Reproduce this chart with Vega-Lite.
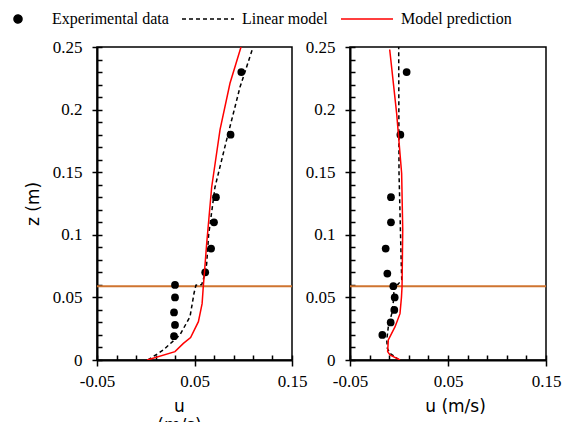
{
  "$schema": "https://vega.github.io/schema/vega-lite/v6.json",
  "background": "white",
  "padding": {"left": -9, "top": -8, "right": 0, "bottom": -12},
  "config": {
    "font": "Liberation Serif",
    "view": {"stroke": "black", "strokeWidth": 1.5},
    "axis": {"grid": false, "domainColor": "black", "domainWidth": 2, "tickColor": "black", "tickWidth": 1.5, "labelColor": "black", "labelFont": "Liberation Serif", "labelFontSize": 17, "titleFont": "DejaVu Sans", "titleFontSize": 17, "titleFontWeight": "normal", "titleColor": "black", "labelFlush": false, "labelOverlap": false},
    "legend": {"orient": "none", "legendX": -106, "legendY": -55, "direction": "horizontal", "title": null, "symbolSize": 2704, "symbolStrokeWidth": 1.5, "labelFont": "Liberation Serif", "labelFontSize": 16, "labelColor": "black", "labelOffset": 7, "columnPadding": 10, "labelLimit": 300, "padding": 0}
  },
  "data": {"values": [
    {"p": "a", "s": "Experimental data", "u": 0.030, "z": 0.060},
    {"p": "a", "s": "Experimental data", "u": 0.030, "z": 0.050},
    {"p": "a", "s": "Experimental data", "u": 0.029, "z": 0.038},
    {"p": "a", "s": "Experimental data", "u": 0.030, "z": 0.028},
    {"p": "a", "s": "Experimental data", "u": 0.029, "z": 0.019},
    {"p": "a", "s": "Experimental data", "u": 0.061, "z": 0.070},
    {"p": "a", "s": "Experimental data", "u": 0.067, "z": 0.089},
    {"p": "a", "s": "Experimental data", "u": 0.070, "z": 0.110},
    {"p": "a", "s": "Experimental data", "u": 0.072, "z": 0.130},
    {"p": "a", "s": "Experimental data", "u": 0.087, "z": 0.180},
    {"p": "a", "s": "Experimental data", "u": 0.098, "z": 0.230},
    {"p": "a", "s": "Linear model", "u": 0.0022, "z": 0.0},
    {"p": "a", "s": "Linear model", "u": 0.018, "z": 0.008},
    {"p": "a", "s": "Linear model", "u": 0.035, "z": 0.020},
    {"p": "a", "s": "Linear model", "u": 0.0454, "z": 0.0346},
    {"p": "a", "s": "Linear model", "u": 0.0495, "z": 0.0533},
    {"p": "a", "s": "Linear model", "u": 0.0515, "z": 0.0598},
    {"p": "a", "s": "Linear model", "u": 0.0574, "z": 0.0602},
    {"p": "a", "s": "Linear model", "u": 0.0608, "z": 0.069},
    {"p": "a", "s": "Linear model", "u": 0.0625, "z": 0.077},
    {"p": "a", "s": "Linear model", "u": 0.0645, "z": 0.100},
    {"p": "a", "s": "Linear model", "u": 0.071, "z": 0.138},
    {"p": "a", "s": "Linear model", "u": 0.083, "z": 0.176},
    {"p": "a", "s": "Linear model", "u": 0.0967, "z": 0.218},
    {"p": "a", "s": "Linear model", "u": 0.1097, "z": 0.249},
    {"p": "a", "s": "Model prediction", "u": 0.0015, "z": 0.0},
    {"p": "a", "s": "Model prediction", "u": 0.030, "z": 0.0067},
    {"p": "a", "s": "Model prediction", "u": 0.0386, "z": 0.0133},
    {"p": "a", "s": "Model prediction", "u": 0.046, "z": 0.018},
    {"p": "a", "s": "Model prediction", "u": 0.054, "z": 0.0306},
    {"p": "a", "s": "Model prediction", "u": 0.0578, "z": 0.045},
    {"p": "a", "s": "Model prediction", "u": 0.059, "z": 0.0585},
    {"p": "a", "s": "Model prediction", "u": 0.0602, "z": 0.070},
    {"p": "a", "s": "Model prediction", "u": 0.0625, "z": 0.093},
    {"p": "a", "s": "Model prediction", "u": 0.0676, "z": 0.138},
    {"p": "a", "s": "Model prediction", "u": 0.0762, "z": 0.184},
    {"p": "a", "s": "Model prediction", "u": 0.0864, "z": 0.221},
    {"p": "a", "s": "Model prediction", "u": 0.0977, "z": 0.250},
    {"p": "a", "s": "Level", "z": 0.059},
    {"p": "b", "s": "Experimental data", "u": 0.0078, "z": 0.230},
    {"p": "b", "s": "Experimental data", "u": 0.0014, "z": 0.180},
    {"p": "b", "s": "Experimental data", "u": -0.0082, "z": 0.130},
    {"p": "b", "s": "Experimental data", "u": -0.0082, "z": 0.110},
    {"p": "b", "s": "Experimental data", "u": -0.0136, "z": 0.089},
    {"p": "b", "s": "Experimental data", "u": -0.0119, "z": 0.069},
    {"p": "b", "s": "Experimental data", "u": -0.0058, "z": 0.059},
    {"p": "b", "s": "Experimental data", "u": -0.0044, "z": 0.050},
    {"p": "b", "s": "Experimental data", "u": -0.0048, "z": 0.040},
    {"p": "b", "s": "Experimental data", "u": -0.0085, "z": 0.030},
    {"p": "b", "s": "Experimental data", "u": -0.0170, "z": 0.020},
    {"p": "b", "s": "Linear model", "u": 0.0003, "z": 0.0},
    {"p": "b", "s": "Linear model", "u": -0.0092, "z": 0.0053},
    {"p": "b", "s": "Linear model", "u": -0.0119, "z": 0.0093},
    {"p": "b", "s": "Linear model", "u": -0.0125, "z": 0.016},
    {"p": "b", "s": "Linear model", "u": -0.0109, "z": 0.0266},
    {"p": "b", "s": "Linear model", "u": -0.0074, "z": 0.037},
    {"p": "b", "s": "Linear model", "u": -0.0051, "z": 0.0506},
    {"p": "b", "s": "Linear model", "u": -0.0058, "z": 0.0595},
    {"p": "b", "s": "Linear model", "u": -0.001, "z": 0.0605},
    {"p": "b", "s": "Linear model", "u": 0.0028, "z": 0.064},
    {"p": "b", "s": "Linear model", "u": 0.0022, "z": 0.080},
    {"p": "b", "s": "Linear model", "u": 0.0, "z": 0.150},
    {"p": "b", "s": "Linear model", "u": -0.0003, "z": 0.250},
    {"p": "b", "s": "Model prediction", "u": 0.001, "z": 0.0},
    {"p": "b", "s": "Model prediction", "u": -0.0092, "z": 0.004},
    {"p": "b", "s": "Model prediction", "u": -0.0116, "z": 0.0067},
    {"p": "b", "s": "Model prediction", "u": -0.0109, "z": 0.016},
    {"p": "b", "s": "Model prediction", "u": -0.004, "z": 0.0266},
    {"p": "b", "s": "Model prediction", "u": 0.001, "z": 0.037},
    {"p": "b", "s": "Model prediction", "u": 0.0025, "z": 0.050},
    {"p": "b", "s": "Model prediction", "u": 0.0031, "z": 0.0585},
    {"p": "b", "s": "Model prediction", "u": 0.0038, "z": 0.104},
    {"p": "b", "s": "Model prediction", "u": 0.0027, "z": 0.149},
    {"p": "b", "s": "Model prediction", "u": -0.0024, "z": 0.197},
    {"p": "b", "s": "Model prediction", "u": -0.0095, "z": 0.248},
    {"p": "b", "s": "Level", "z": 0.059}
  ]},
  "spacing": 58,
  "bounds": "flush",
  "resolve": {"scale": {"color": "shared"}, "legend": {"color": "shared"}},
  "hconcat": [
    {
      "width": 195, "height": 313,
      "transform": [{"filter": "datum.p === 'a'"}],
      "resolve": {"axis": {"x": "independent", "y": "independent"}},
      "layer": [
        {
          "transform": [{"filter": "datum.s === 'Level'"}],
          "mark": {"type": "rule", "color": "#CF7430", "strokeWidth": 2},
          "encoding": {"y": {"field": "z", "type": "quantitative", "scale": {"domain": [0, 0.25], "nice": false}, "axis": null}}
        },
        {
          "transform": [{"filter": "datum.s === 'Experimental data'"}],
          "mark": {"type": "point", "filled": true, "opacity": 1, "size": 60},
          "encoding": {
            "x": {"field": "u", "type": "quantitative", "scale": {"domain": [-0.05, 0.15], "nice": false}, "axis": {"orient": "bottom", "values": [-0.05, 0.05, 0.15], "format": ".2f", "labelExpr": "replace(datum.label, '−', '-')", "tickSize": 6, "labelPadding": 7, "title": ["u", "(m/s)"], "titlePadding": 9, "titleX": 82}},
            "y": {"field": "z", "type": "quantitative", "scale": {"domain": [0, 0.25], "nice": false}, "axis": {"orient": "left", "values": [0, 0.05, 0.1, 0.15, 0.2, 0.25], "format": "~g", "tickSize": 5, "labelPadding": 10, "title": "z (m)", "titlePadding": 10}},
            "color": {"field": "s", "type": "nominal", "scale": {"domain": ["Experimental data", "Linear model", "Model prediction"], "range": ["black", "black", "red"]},
              "legend": {"encode": {"symbols": {"update": {
                  "shape": {"signal": "datum.value === 'Experimental data' ? 'circle' : 'stroke'"},
                  "size": {"signal": "datum.value === 'Experimental data' ? 64 : 2704"},
                  "strokeDash": {"signal": "datum.value === 'Linear model' ? [4, 3] : [1, 0]"},
                  "fill": {"signal": "datum.value === 'Experimental data' ? 'black' : 'transparent'"},
                  "stroke": {"signal": "datum.value === 'Model prediction' ? 'red' : 'black'"},
                  "strokeWidth": {"value": 1.5},
                  "opacity": {"value": 1}
                }}}}}
          }
        },
        {
          "transform": [{"filter": "datum.s === 'Linear model'"}],
          "mark": {"type": "line", "strokeWidth": 1.5, "strokeDash": [4, 3], "clip": true},
          "encoding": {
            "x": {"field": "u", "type": "quantitative", "scale": {"domain": [-0.05, 0.15], "nice": false}, "axis": {"orient": "bottom", "values": [-0.05, -0.03, -0.01, 0.01, 0.03, 0.05, 0.07, 0.09, 0.11, 0.13, 0.15], "tickSize": -5, "labels": false, "domain": false, "title": null}},
            "y": {"field": "z", "type": "quantitative", "scale": {"domain": [0, 0.25], "nice": false}, "axis": {"orient": "left", "values": [0, 0.01, 0.02, 0.03, 0.04, 0.05, 0.06, 0.07, 0.08, 0.09, 0.1, 0.11, 0.12, 0.13, 0.14, 0.15, 0.16, 0.17, 0.18, 0.19, 0.2, 0.21, 0.22, 0.23, 0.24, 0.25], "tickSize": -5, "labels": false, "domain": false, "title": null}},
            "order": {"field": "z", "type": "quantitative"},
            "color": {"field": "s", "type": "nominal", "scale": {"domain": ["Experimental data", "Linear model", "Model prediction"], "range": ["black", "black", "red"]},
              "legend": {"encode": {"symbols": {"update": {
                  "shape": {"signal": "datum.value === 'Experimental data' ? 'circle' : 'stroke'"},
                  "size": {"signal": "datum.value === 'Experimental data' ? 64 : 2704"},
                  "strokeDash": {"signal": "datum.value === 'Linear model' ? [4, 3] : [1, 0]"},
                  "fill": {"signal": "datum.value === 'Experimental data' ? 'black' : 'transparent'"},
                  "stroke": {"signal": "datum.value === 'Model prediction' ? 'red' : 'black'"},
                  "strokeWidth": {"value": 1.5},
                  "opacity": {"value": 1}
                }}}}}
          }
        },
        {
          "transform": [{"filter": "datum.s === 'Model prediction'"}],
          "mark": {"type": "line", "strokeWidth": 1.5, "clip": true},
          "encoding": {
            "x": {"field": "u", "type": "quantitative", "scale": {"domain": [-0.05, 0.15], "nice": false}, "axis": null},
            "y": {"field": "z", "type": "quantitative", "scale": {"domain": [0, 0.25], "nice": false}, "axis": null},
            "order": {"field": "z", "type": "quantitative"},
            "color": {"field": "s", "type": "nominal", "scale": {"domain": ["Experimental data", "Linear model", "Model prediction"], "range": ["black", "black", "red"]},
              "legend": {"encode": {"symbols": {"update": {
                  "shape": {"signal": "datum.value === 'Experimental data' ? 'circle' : 'stroke'"},
                  "size": {"signal": "datum.value === 'Experimental data' ? 64 : 2704"},
                  "strokeDash": {"signal": "datum.value === 'Linear model' ? [4, 3] : [1, 0]"},
                  "fill": {"signal": "datum.value === 'Experimental data' ? 'black' : 'transparent'"},
                  "stroke": {"signal": "datum.value === 'Model prediction' ? 'red' : 'black'"},
                  "strokeWidth": {"value": 1.5},
                  "opacity": {"value": 1}
                }}}}}
          }
        }
      ]
    },
    {
      "width": 196, "height": 313,
      "transform": [{"filter": "datum.p === 'b'"}],
      "resolve": {"axis": {"x": "independent", "y": "independent"}},
      "layer": [
        {
          "transform": [{"filter": "datum.s === 'Level'"}],
          "mark": {"type": "rule", "color": "#CF7430", "strokeWidth": 2},
          "encoding": {"y": {"field": "z", "type": "quantitative", "scale": {"domain": [0, 0.25], "nice": false}, "axis": null}}
        },
        {
          "transform": [{"filter": "datum.s === 'Experimental data'"}],
          "mark": {"type": "point", "filled": true, "opacity": 1, "size": 60},
          "encoding": {
            "x": {"field": "u", "type": "quantitative", "scale": {"domain": [-0.05, 0.15], "nice": false}, "axis": {"orient": "bottom", "values": [-0.05, 0.05, 0.15], "format": ".2f", "labelExpr": "replace(datum.label, '−', '-')", "tickSize": 6, "labelPadding": 7, "title": "u (m/s)", "titlePadding": 9, "titleX": 105}},
            "y": {"field": "z", "type": "quantitative", "scale": {"domain": [0, 0.25], "nice": false}, "axis": {"orient": "left", "values": [0, 0.05, 0.1, 0.15, 0.2, 0.25], "format": "~g", "tickSize": 5, "labelPadding": 10, "title": null}},
            "color": {"field": "s", "type": "nominal", "scale": {"domain": ["Experimental data", "Linear model", "Model prediction"], "range": ["black", "black", "red"]},
              "legend": {"encode": {"symbols": {"update": {
                  "shape": {"signal": "datum.value === 'Experimental data' ? 'circle' : 'stroke'"},
                  "size": {"signal": "datum.value === 'Experimental data' ? 64 : 2704"},
                  "strokeDash": {"signal": "datum.value === 'Linear model' ? [4, 3] : [1, 0]"},
                  "fill": {"signal": "datum.value === 'Experimental data' ? 'black' : 'transparent'"},
                  "stroke": {"signal": "datum.value === 'Model prediction' ? 'red' : 'black'"},
                  "strokeWidth": {"value": 1.5},
                  "opacity": {"value": 1}
                }}}}}
          }
        },
        {
          "transform": [{"filter": "datum.s === 'Linear model'"}],
          "mark": {"type": "line", "strokeWidth": 1.5, "strokeDash": [4, 3], "clip": true},
          "encoding": {
            "x": {"field": "u", "type": "quantitative", "scale": {"domain": [-0.05, 0.15], "nice": false}, "axis": {"orient": "bottom", "values": [-0.05, -0.03, -0.01, 0.01, 0.03, 0.05, 0.07, 0.09, 0.11, 0.13, 0.15], "tickSize": -5, "labels": false, "domain": false, "title": null}},
            "y": {"field": "z", "type": "quantitative", "scale": {"domain": [0, 0.25], "nice": false}, "axis": {"orient": "left", "values": [0, 0.01, 0.02, 0.03, 0.04, 0.05, 0.06, 0.07, 0.08, 0.09, 0.1, 0.11, 0.12, 0.13, 0.14, 0.15, 0.16, 0.17, 0.18, 0.19, 0.2, 0.21, 0.22, 0.23, 0.24, 0.25], "tickSize": -5, "labels": false, "domain": false, "title": null}},
            "order": {"field": "z", "type": "quantitative"},
            "color": {"field": "s", "type": "nominal", "scale": {"domain": ["Experimental data", "Linear model", "Model prediction"], "range": ["black", "black", "red"]},
              "legend": {"encode": {"symbols": {"update": {
                  "shape": {"signal": "datum.value === 'Experimental data' ? 'circle' : 'stroke'"},
                  "size": {"signal": "datum.value === 'Experimental data' ? 64 : 2704"},
                  "strokeDash": {"signal": "datum.value === 'Linear model' ? [4, 3] : [1, 0]"},
                  "fill": {"signal": "datum.value === 'Experimental data' ? 'black' : 'transparent'"},
                  "stroke": {"signal": "datum.value === 'Model prediction' ? 'red' : 'black'"},
                  "strokeWidth": {"value": 1.5},
                  "opacity": {"value": 1}
                }}}}}
          }
        },
        {
          "transform": [{"filter": "datum.s === 'Model prediction'"}],
          "mark": {"type": "line", "strokeWidth": 1.5, "clip": true},
          "encoding": {
            "x": {"field": "u", "type": "quantitative", "scale": {"domain": [-0.05, 0.15], "nice": false}, "axis": null},
            "y": {"field": "z", "type": "quantitative", "scale": {"domain": [0, 0.25], "nice": false}, "axis": null},
            "order": {"field": "z", "type": "quantitative"},
            "color": {"field": "s", "type": "nominal", "scale": {"domain": ["Experimental data", "Linear model", "Model prediction"], "range": ["black", "black", "red"]},
              "legend": {"encode": {"symbols": {"update": {
                  "shape": {"signal": "datum.value === 'Experimental data' ? 'circle' : 'stroke'"},
                  "size": {"signal": "datum.value === 'Experimental data' ? 64 : 2704"},
                  "strokeDash": {"signal": "datum.value === 'Linear model' ? [4, 3] : [1, 0]"},
                  "fill": {"signal": "datum.value === 'Experimental data' ? 'black' : 'transparent'"},
                  "stroke": {"signal": "datum.value === 'Model prediction' ? 'red' : 'black'"},
                  "strokeWidth": {"value": 1.5},
                  "opacity": {"value": 1}
                }}}}}
          }
        }
      ]
    }
  ]
}
